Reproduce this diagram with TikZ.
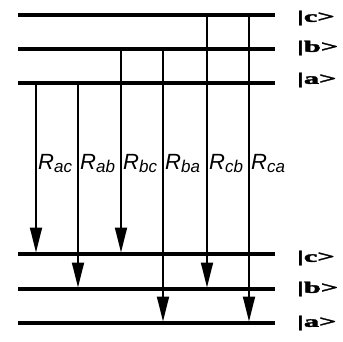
\documentclass[tikz,border=0pt]{standalone}
\usepackage{fontspec}
\usepackage{graphicx}
\setmainfont{Liberation Serif}
\setsansfont{Liberation Sans}
\newfontfamily\ketfont[FakeBold=2]{Liberation Serif Bold}
\usetikzlibrary{arrows.meta}
\newcommand{\rlabel}[1]{{\sffamily\itshape\fontsize{22}{24}\selectfont R\fontsize{17}{18}\selectfont\raisebox{-3pt}{#1}}}
\newcommand{\ketlabel}[1]{\scalebox{1.9}[1]{\ketfont\fontsize{16}{20}\selectfont |#1>}}

\begin{document}
\begin{tikzpicture}[
  x=1pt, y=-1pt,
  level/.style={line width=3.8pt},
  ketnode/.style={anchor=west, inner sep=0pt},
  ratenode/.style={anchor=west, inner sep=0pt},
  trans/.style={line width=1.8pt, shorten >=1.5pt, -{Triangle[length=25pt, width=12pt]}},
]
\useasboundingbox (0,0) rectangle (343,341);

% upper levels
\coordinate (UcL) at (18,15);  \coordinate (UcR) at (275,15);
\coordinate (UbL) at (18,49);  \coordinate (UbR) at (275,49);
\coordinate (UaL) at (18,83);  \coordinate (UaR) at (275,83);
% lower levels
\coordinate (LcL) at (18,254); \coordinate (LcR) at (275,254);
\coordinate (LbL) at (18,289); \coordinate (LbR) at (275,289);
\coordinate (LaL) at (18,323); \coordinate (LaR) at (275,323);

\draw[level] (UcL) -- (UcR);
\draw[level] (UbL) -- (UbR);
\draw[level] (UaL) -- (UaR);
\draw[level] (LcL) -- (LcR);
\draw[level] (LbL) -- (LbR);
\draw[level] (LaL) -- (LaR);

\node[ketnode] at (297,18)  (kUc) {\ketlabel{c}};
\node[ketnode] at (297,48)  (kUb) {\ketlabel{b}};
\node[ketnode] at (297,80)  (kUa) {\ketlabel{a}};
\node[ketnode] at (297,258) (kLc) {\ketlabel{c}};
\node[ketnode] at (297,289) (kLb) {\ketlabel{b}};
\node[ketnode] at (297,323) (kLa) {\ketlabel{a}};

% transition columns
\coordinate (ac) at (36,0);
\coordinate (ab) at (78,0);
\coordinate (bc) at (121,0);
\coordinate (ba) at (163,0);
\coordinate (cb) at (207,0);
\coordinate (ca) at (249,0);

\draw[trans] (UaL -| ac) -- (LcL -| ac);
\draw[trans] (UaL -| ab) -- (LbL -| ab);
\draw[trans] (UbL -| bc) -- (LcL -| bc);
\draw[trans] (UbL -| ba) -- (LaL -| ba);
\draw[trans] (UcL -| cb) -- (LbL -| cb);
\draw[trans] (UcL -| ca) -- (LaL -| ca);

\node[ratenode] at (38,164)  (Rac) {\rlabel{ac}};
\node[ratenode] at (80,164)  (Rab) {\rlabel{ab}};
\node[ratenode] at (123,164) (Rbc) {\rlabel{bc}};
\node[ratenode] at (165,164) (Rba) {\rlabel{ba}};
\node[ratenode] at (209,164) (Rcb) {\rlabel{cb}};
\node[ratenode] at (251,164) (Rca) {\rlabel{ca}};
\end{tikzpicture}
\end{document}
